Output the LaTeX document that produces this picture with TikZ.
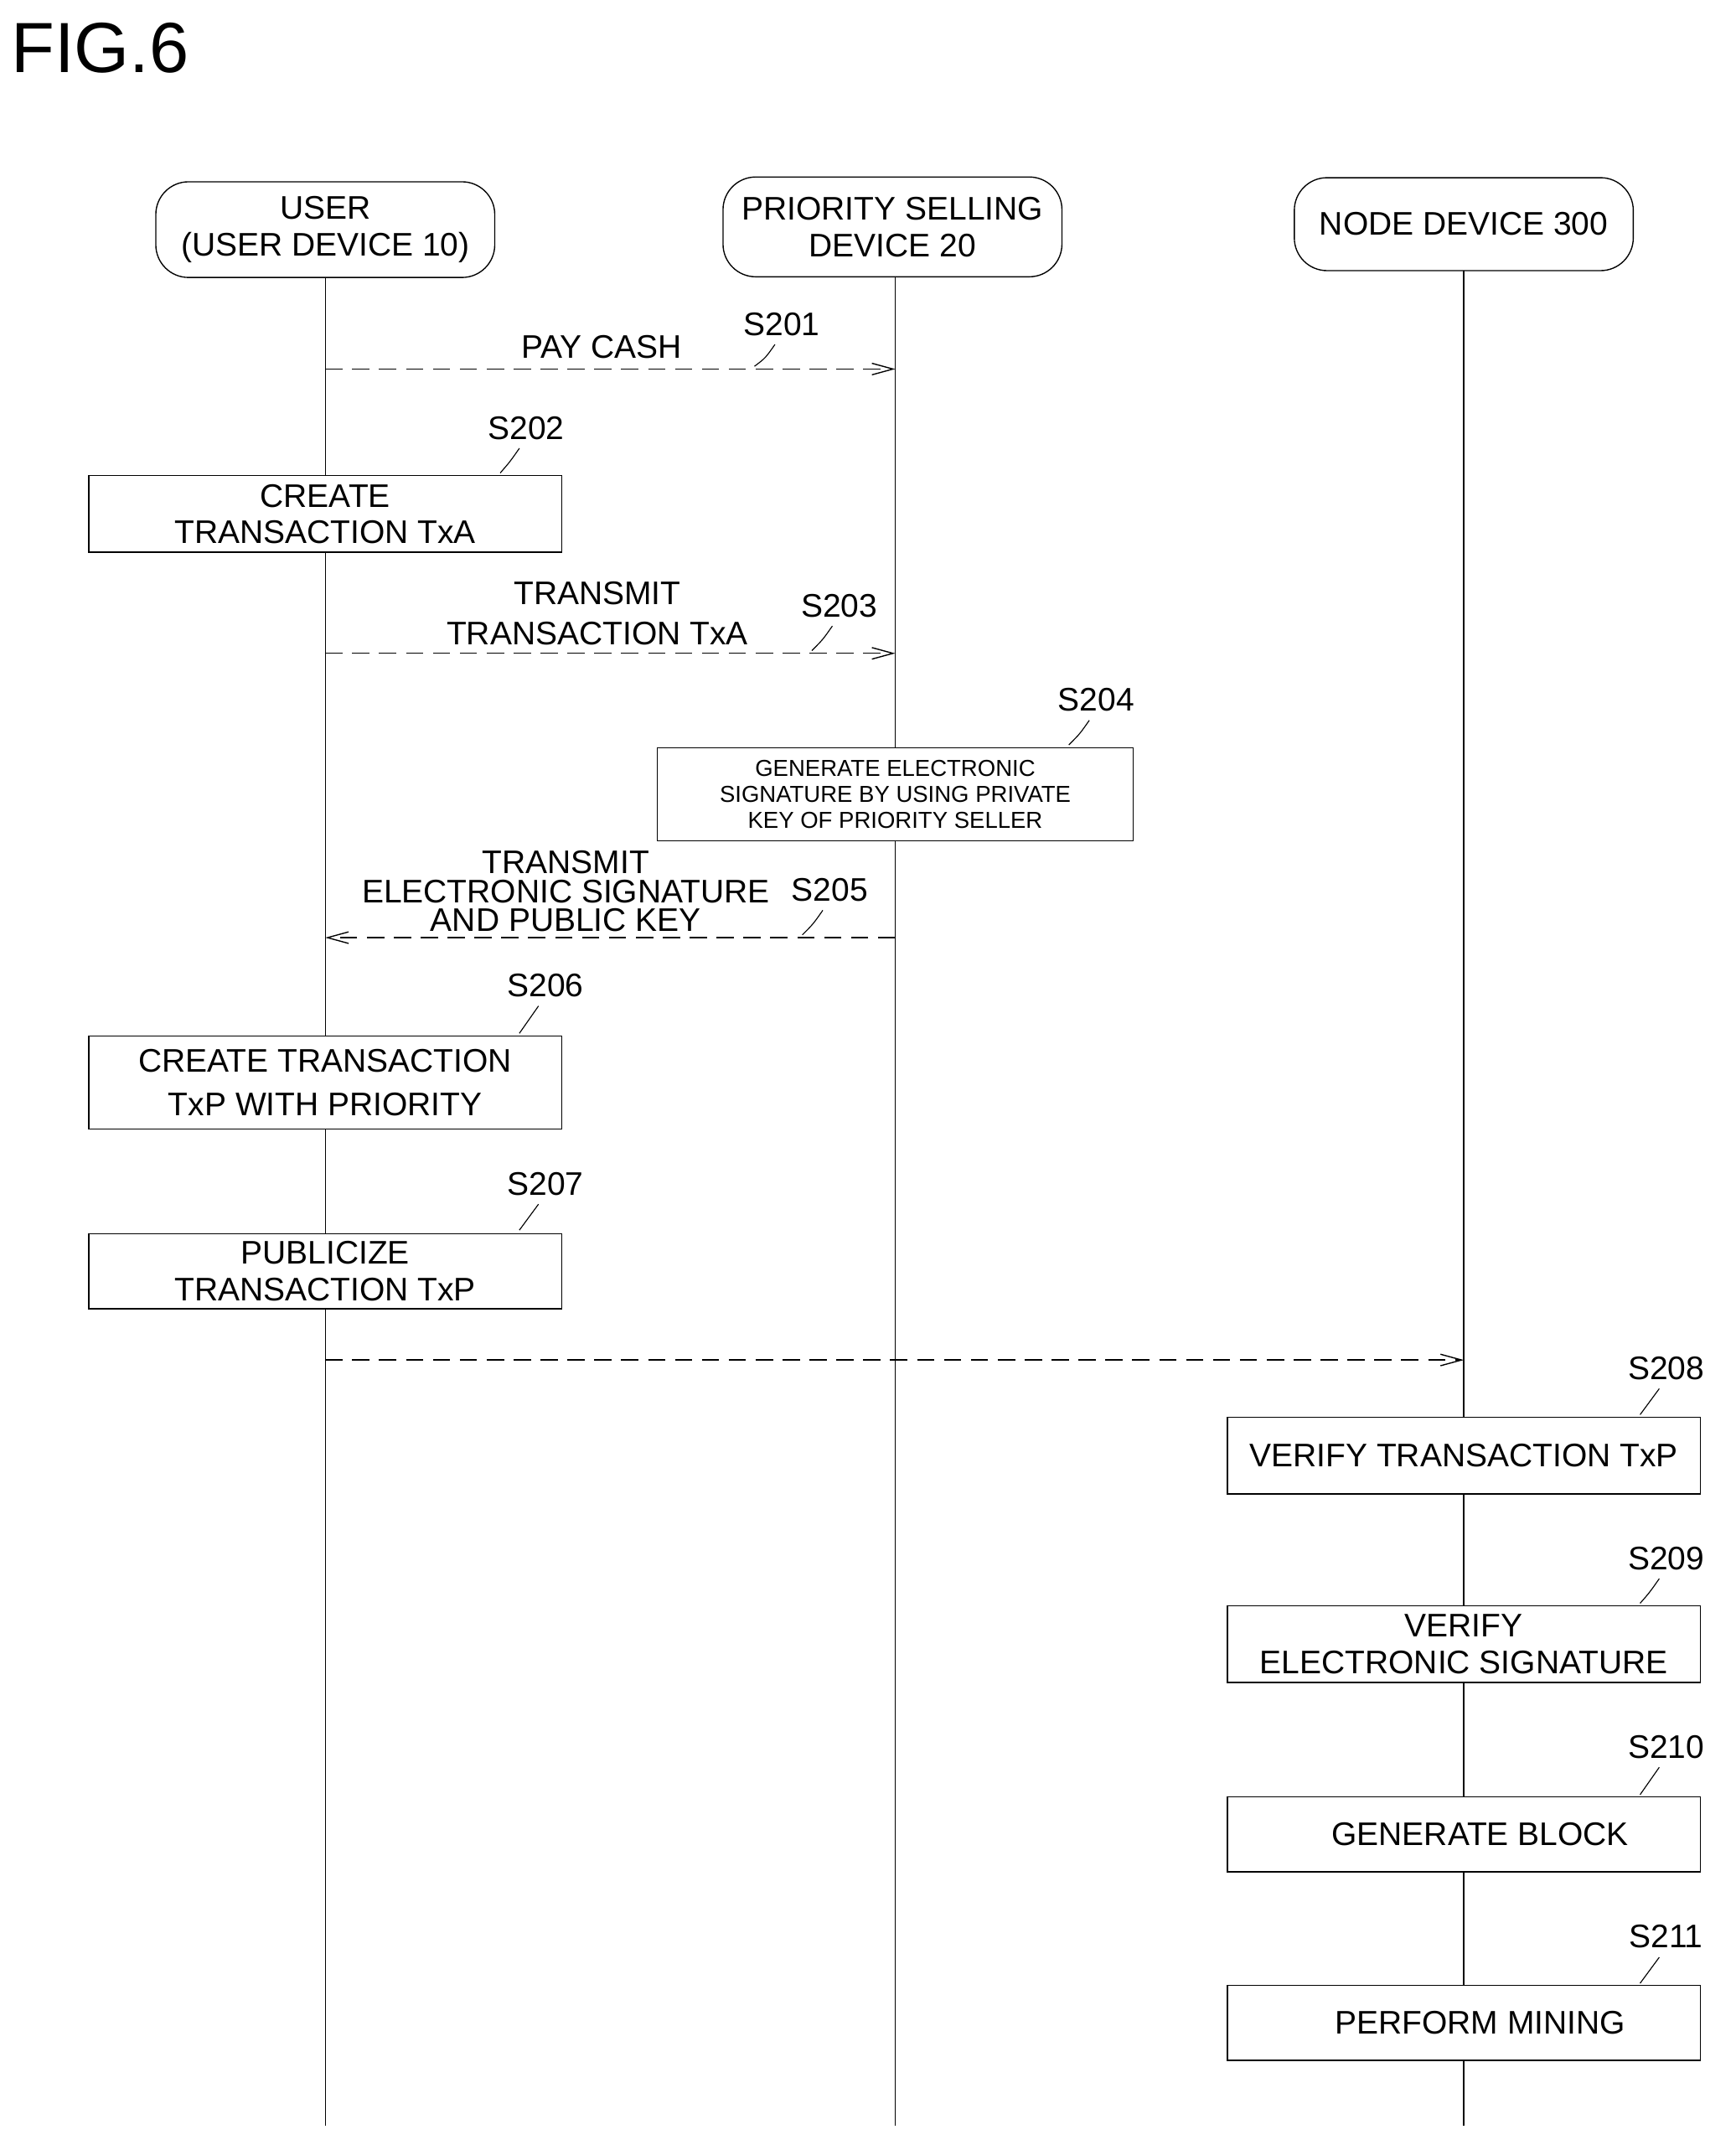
\documentclass[tikz,border=0pt]{standalone}
\usepackage{fontspec}
\setmainfont{Liberation Sans}
\usetikzlibrary{arrows.meta}
\begin{document}
\begin{tikzpicture}[x=0.05cm,y=-0.05cm,
  txt/.style={font=\fontsize{34}{38}\selectfont,align=center,inner sep=0pt},
  head/.style={draw,fill=white,rounded corners=34,line width=1.2pt,minimum width=12.4cm,inner sep=0pt,font=\fontsize{34}{38}\selectfont,align=center},
  box/.style={draw,fill=white,line width=1.2pt,minimum width=17.3cm,inner sep=0pt,font=\fontsize{34}{38}\selectfont,align=center},
  life/.style={line width=1.2pt},
  msg/.style={line width=1.2pt,dash pattern=on 18pt off 10pt,-{Straight Barb[open,length=22pt,width=12pt]}},
  lab/.style={font=\fontsize{34}{38}\selectfont,inner sep=0pt},
  sq/.style={line width=1pt}]
\useasboundingbox (0,0) rectangle (1270,1573);
\node[font=\fontsize{74}{80}\selectfont,anchor=west,inner sep=0pt] (fig) at (8,35) {FIG.6};
% lifeline end points
\coordinate (ue) at (238,1555);
\coordinate (pe) at (655,1555);
\coordinate (ne) at (1071,1555);
\coordinate (us) at (238,200);
\coordinate (ps) at (655,200);
\coordinate (ns) at (1071,195);
\draw[life] (us) -- (ue);
\draw[life] (ps) -- (pe);
\draw[life] (ns) -- (ne);
% heads
\node[head,minimum height=3.5cm] (u) at (238,168) {USER\\(USER DEVICE 10)};
\node[head,minimum height=3.65cm] (p) at (653,166) {PRIORITY SELLING\\DEVICE 20};
\node[head,minimum height=3.4cm] (n) at (1071,164) {NODE DEVICE 300};
% S201
\coordinate (a1) at (238,270); \coordinate (b1) at (655,270);
\draw[msg] (a1) -- (b1);
\node[lab] (l1) at (440,254) {PAY CASH};
\node[lab] (s201) at (572,237) {S201};
\draw[sq] (567,252) .. controls (560,262) .. (552,268);
% S202
\node[box,minimum height=2.8cm] (b202) at (238,376) {CREATE\\TRANSACTION TxA};
\node[lab] (s202) at (385,313) {S202};
\draw[sq] (380,328) .. controls (373,338) .. (366,346);
% S203
\coordinate (a3) at (238,478); \coordinate (b3) at (655,478);
\draw[msg] (a3) -- (b3);
\node[txt] (l3) at (437,449) {TRANSMIT\\[4pt]TRANSACTION TxA};
\node[lab] (s203) at (614,443) {S203};
\draw[sq] (609,458) .. controls (602,468) .. (594,476);
% S204
\node[box,minimum width=17.4cm,minimum height=3.4cm,font=\fontsize{24}{27}\selectfont] (b204) at (655,581) {GENERATE ELECTRONIC\\SIGNATURE BY USING PRIVATE\\KEY OF PRIORITY SELLER};
\node[lab] (s204) at (802,512) {S204};
\draw[sq] (797,527) .. controls (790,537) .. (782,545);
% S205
\coordinate (a5) at (655,686); \coordinate (b5) at (238,686);
\draw[msg] (a5) -- (b5);
\node[font=\fontsize{34}{30}\selectfont,align=center,inner sep=0pt] (l5) at (414,652) {TRANSMIT\\ELECTRONIC SIGNATURE\\AND PUBLIC KEY};
\node[lab] (s205) at (607,651) {S205};
\draw[sq] (602,666) .. controls (595,676) .. (587,684);
% S206
\node[box,minimum height=3.4cm] (b206) at (238,792) {CREATE TRANSACTION\\[8pt]TxP WITH PRIORITY};
\node[lab] (s206) at (399,721) {S206};
\draw[sq] (394,736) .. controls (387,746) .. (380,756);
% S207
\node[box,minimum height=2.75cm] (b207) at (238,930) {PUBLICIZE\\TRANSACTION TxP};
\node[lab] (s207) at (399,866) {S207};
\draw[sq] (394,881) .. controls (387,891) .. (380,900);
% arrow to node
\coordinate (a8) at (238,995); \coordinate (b8) at (1071,995);
\draw[msg] (a8) -- (b8);
% node boxes
\node[box,minimum height=2.8cm] (b208) at (1071,1065) {VERIFY TRANSACTION TxP};
\node[lab] (s208) at (1219,1001) {S208};
\draw[sq] (1214,1016) .. controls (1207,1026) .. (1200,1035);
\node[box,minimum height=2.8cm] (b209) at (1071,1203) {VERIFY\\ELECTRONIC SIGNATURE};
\node[lab] (s209) at (1219,1140) {S209};
\draw[sq] (1214,1155) .. controls (1207,1165) .. (1200,1173);
\node[box,minimum height=2.75cm] (b210) at (1071,1342) {\hspace*{1.2cm}GENERATE BLOCK};
\node[lab] (s210) at (1219,1278) {S210};
\draw[sq] (1214,1293) .. controls (1207,1303) .. (1200,1313);
\node[box,minimum height=2.75cm] (b211) at (1071,1480) {\hspace*{1.2cm}PERFORM MINING};
\node[lab] (s211) at (1219,1417) {S211};
\draw[sq] (1214,1432) .. controls (1207,1442) .. (1200,1451);
\end{tikzpicture}
\end{document}
